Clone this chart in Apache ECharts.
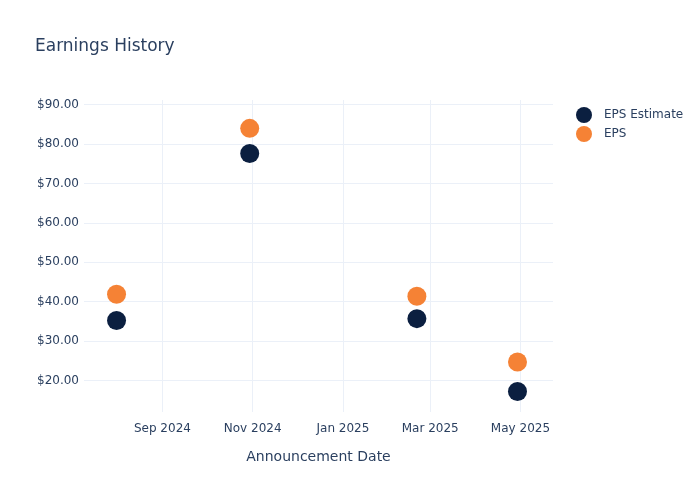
<!DOCTYPE html>
<html>
<head>
<meta charset="UTF-8">
<title>Earnings History</title>
<script src="https://cdn.jsdelivr.net/npm/echarts@6/dist/echarts.min.js"></script>
<style>
  html, body { margin: 0; padding: 0; background: #fff; }
  #main { width: 700px; height: 500px; }
</style>
</head>
<body>
<div id="main"></div>
<script type="text/javascript">
    // announcement dates and values
    var dates = ['2024-08-01', '2024-10-30', '2025-02-20', '2025-04-29'];
    var epsEstimate = [35.25, 77.6, 35.7, 17.2];
    var eps = [41.9, 84.0, 41.4, 24.7];
    var yTicks = [20, 30, 40, 50, 60, 70, 80, 90];
    var xTicks = ['2024-09-01', '2024-11-01', '2025-01-01', '2025-03-01', '2025-05-01'];
    var monthNames = ['Jan', 'Feb', 'Mar', 'Apr', 'May', 'Jun', 'Jul', 'Aug', 'Sep', 'Oct', 'Nov', 'Dec'];

    function toTime(s) {
        var p = s.split('-');
        return new Date(+p[0], +p[1] - 1, +p[2]).getTime();
    }
    function pairs(vals) {
        var out = [];
        for (var i = 0; i < dates.length; i++) {
            out.push([toTime(dates[i]), vals[i]]);
        }
        return out;
    }

    var textColor = '#2a3f5f';
    var gridColor = '#ebf0f8';
    var font = 'DejaVu Sans, sans-serif';
    var myChart = echarts.init(document.getElementById('main'));
    var option = {
        backgroundColor: '#fff',
        animation: false,
        title: {
            text: 'Earnings History',
            left: 30,
            top: 33,
            textStyle: { color: textColor, fontSize: 17, fontWeight: 'normal', fontFamily: font }
        },
        legend: {
            orient: 'vertical',
            left: 571,
            top: 102,
            itemWidth: 30,
            itemHeight: 16,
            itemGap: 3,
            icon: 'circle',
            textStyle: { color: textColor, fontSize: 12, fontFamily: font },
            data: ['EPS Estimate', 'EPS']
        },
        grid: {
            left: 84,
            right: 147,
            top: 100,
            bottom: 88
        },
        // timestamps on a value axis so the tick dates can be pinned
        xAxis: {
            type: 'value',
            min: toTime('2024-07-10'),
            max: toTime('2025-05-23'),
            name: 'Announcement Date',
            nameLocation: 'middle',
            nameGap: 38,
            nameTextStyle: { color: textColor, fontSize: 14, fontFamily: font },
            axisLine: { show: false },
            axisTick: { show: false, customValues: xTicks.map(toTime) },
            axisLabel: {
                customValues: xTicks.map(toTime),
                color: textColor,
                fontSize: 12,
                margin: 11,
                fontFamily: font,
                formatter: function (v) {
                    var d = new Date(v);
                    return monthNames[d.getMonth()] + ' ' + d.getFullYear();
                }
            },
            splitLine: { show: true, lineStyle: { color: gridColor, width: 1 } }
        },
        yAxis: {
            type: 'value',
            min: 12,
            max: 91.2,
            axisLine: { show: false },
            axisTick: { show: false, customValues: yTicks },
            axisLabel: {
                customValues: yTicks,
                color: textColor,
                fontSize: 12,
                margin: 5,
                fontFamily: font,
                formatter: function (v) { return '$' + v.toFixed(2); }
            },
            splitLine: { show: true, lineStyle: { color: gridColor, width: 1 } }
        },
        series: [
            {
                name: 'EPS Estimate',
                type: 'scatter',
                symbolSize: 19,
                itemStyle: { color: '#0b1f40', opacity: 1 },
                data: pairs(epsEstimate)
            },
            {
                name: 'EPS',
                type: 'scatter',
                symbolSize: 19,
                itemStyle: { color: '#f58235', opacity: 1 },
                data: pairs(eps)
            }
        ]
    };
    myChart.setOption(option);
</script>
</body>
</html>
